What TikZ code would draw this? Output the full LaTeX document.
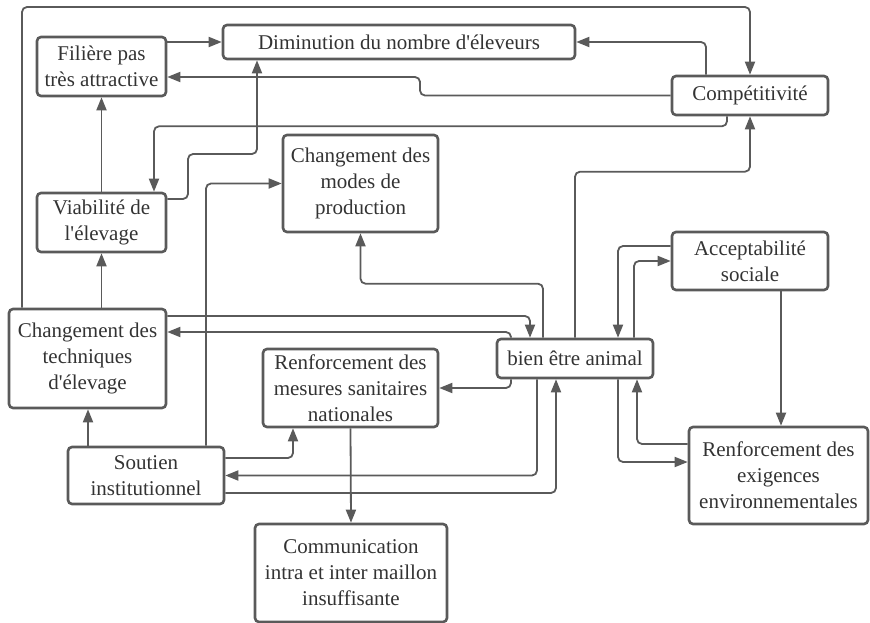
\documentclass[tikz,border=0pt]{standalone}
\usepackage{fontspec}
\setmainfont{Liberation Serif}
\usepackage{xcolor}
\usetikzlibrary{arrows.meta,positioning}
\definecolor{edge}{HTML}{5A5A5A}
\definecolor{ink}{HTML}{333333}
\begin{document}
\begin{tikzpicture}[x=1pt,y=-1pt,box/.style={draw=edge,line width=2.6pt,rounded corners=4pt,align=center,inner sep=0pt,text=ink,font=\fontsize{21}{26}\selectfont},ln/.style={draw=edge,line width=1.8pt,rounded corners=5pt,-{Triangle[length=13pt,width=10pt]}}]
\useasboundingbox (0,0) rectangle (870,623);
\node[box,minimum width=129pt,minimum height=59pt] (fil) at (101.5,66.5) {Filière pas\\très attractive};
\node[box,minimum width=352pt,minimum height=34pt] (dim) at (399,42) {Diminution du nombre d\textquotesingle éleveurs};
\node[box,minimum width=156pt,minimum height=39pt] (comp) at (750,95.5) {Compétitivité};
\node[box,minimum width=129pt,minimum height=59pt] (via) at (101.5,222.5) {Viabilité de\\l\textquotesingle élevage};
\node[box,minimum width=155pt,minimum height=97pt] (modes) at (360.5,183.5) {Changement des\\modes de\\production};
\node[box,minimum width=156pt,minimum height=58pt] (acc) at (750,261) {Acceptabilité\\sociale};
\node[box,minimum width=157pt,minimum height=99pt] (tech) at (87.5,358.5) {Changement des\\techniques\\d\textquotesingle élevage};
\node[box,minimum width=156pt,minimum height=39pt] (bien) at (575,358.5) {bien être animal};
\node[box,minimum width=175pt,minimum height=78pt] (mes) at (350.5,388) {Renforcement des\\mesures sanitaires\\nationales};
\node[box,minimum width=179pt,minimum height=97pt] (exig) at (778.5,475.5) {Renforcement des\\exigences\\environnementales};
\node[box,minimum width=156pt,minimum height=57pt] (sout) at (146,475.5) {Soutien\\institutionnel};
\node[box,minimum width=192pt,minimum height=98pt] (comm) at (351,573) {Communication\\intra et inter maillon\\insuffisante};
% haut du schema
\draw[ln] ([xshift=-65.5pt]tech.north) |- (750,7) -- (comp.north);
\draw[ln] (fil.east |- dim.west) -- (dim.west);
\draw[ln] ([xshift=-44pt]comp.north) |- (dim.east);
\draw[ln] (comp.west) -| (420,86) |- ([yshift=-10.5pt]fil.east);
\draw[ln] ([xshift=-23pt]comp.south) -- ++(0,10) -| ([xshift=52.5pt]via.north);
\draw[ln] ([yshift=23.5pt]via.east) -- (188,199) -- (188,154) -- (257,154) -- ([xshift=-142pt]dim.south);
\draw[ln] (via.north) -- (fil.south);
\draw[ln] ([xshift=14pt]tech.north) -- (via.south);
\draw[ln] ([xshift=60pt]sout.north) |- (modes.west);
\draw[ln] ([xshift=-32pt]bien.north) -- ++(0,-54) -| (modes.south);
\draw[ln] (bien.north) -- ++(0,-166) -| (comp.south);
% autour de bien etre animal
\draw[ln] ([yshift=42.5pt]tech.east) -| ([xshift=-45pt]bien.north);
\draw[ln] ([xshift=-64pt]bien.north) |- ([yshift=26.5pt]tech.east);
\draw[ln] ([xshift=-64pt]bien.south) |- (mes.east);
\draw[ln] ([yshift=15pt]acc.west) -| ([xshift=43pt]bien.north);
\draw[ln] ([xshift=59pt]bien.north) |- (acc.west);
\draw[ln] ([xshift=31pt]acc.south) -- ([xshift=31pt]acc.south |- exig.north);
\draw[ln] ([xshift=43pt]bien.south) |- ([yshift=13.5pt]exig.west);
\draw[ln] ([yshift=31.5pt]exig.west) -| ([xshift=62pt]bien.south);
\draw[ln] ([yshift=-17.5pt]sout.east) -| ([xshift=-19pt]bien.south);
\draw[ln] ([xshift=-38pt]bien.south) |- (sout.east);
% bas du schema
\draw[ln] ([yshift=17.5pt]sout.east) -| ([xshift=-57.5pt]mes.south);
\draw[ln] (mes.south) -- (comm.north);
\draw[ln] ([xshift=-58pt]sout.north) -- ([xshift=-58pt]sout.north |- tech.south);
\end{tikzpicture}
\end{document}
